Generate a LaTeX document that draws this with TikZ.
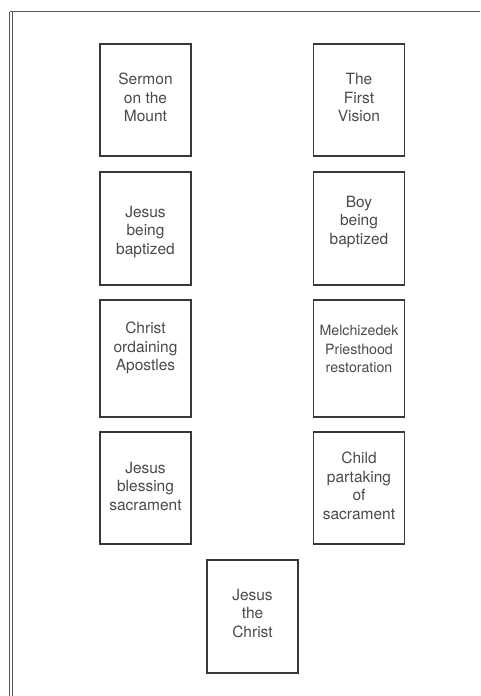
\documentclass[tikz,border=0pt]{standalone}
\usepackage{fontspec}
\setmainfont{TeX Gyre Heros}
\definecolor{inkgray}{HTML}{4A4A4A}
\definecolor{linegray}{HTML}{383838}
\tikzset{%
  card/.style={draw=linegray, line width=1.2pt, minimum width=91pt, inner sep=0pt},
  cardtext/.style={align=center, text=inkgray, inner sep=0pt},
  frameline/.style={draw=linegray!85, line width=1pt}
}

\begin{document}
\begin{tikzpicture}[x=1pt, y=-1pt]
  \useasboundingbox (0,0) rectangle (480,696);

% page frame, only top and left side show
\coordinate (FTR) at (480,11.5);
\coordinate (FTL) at (9.8,11.5);
\coordinate (FBL) at (9.8,696);
\draw [frameline] (FTL) -- (FTR);
\draw [frameline] (FTL) -- (FBL);
\draw [frameline] ([xshift=2.6pt]FTL) -- ([xshift=2.6pt]FBL);

% picture cards
\foreach \id / \x / \y / \h / \ty / \fs / \txt in {
  sermon/145.5/100/112/97.5/15.5/{Sermon\\on the\\Mount},
  vision/359/100/112/97.5/15.5/{The\\First\\Vision},
  jbapt/145.5/228.5/113/232/15.5/{Jesus\\being\\baptized},
  bbapt/359/228.5/113/222/15.5/{Boy\\being\\baptized},
  ordain/145.5/358.5/117/348/15.5/{Christ\\ordaining\\Apostles},
  melch/359/358.5/117/349/14.2/{Melchizedek\\Priesthood\\restoration},
  jbless/145.5/488/112/486/15.5/{Jesus\\blessing\\sacrament},
  child/359/488/112/486/15.5/{Child\\partaking\\of\\sacrament},
  christ/252.5/616.5/113/613/15.5/{Jesus\\the\\Christ}}
{
  \node [card, minimum height=\h pt] (\id) at (\x,\y) {};
  \node [cardtext, font=\fontsize{\fs}{18.5}\selectfont] (\id-t) at (\x,\ty) {\txt};
}

\end{tikzpicture}
\end{document}
